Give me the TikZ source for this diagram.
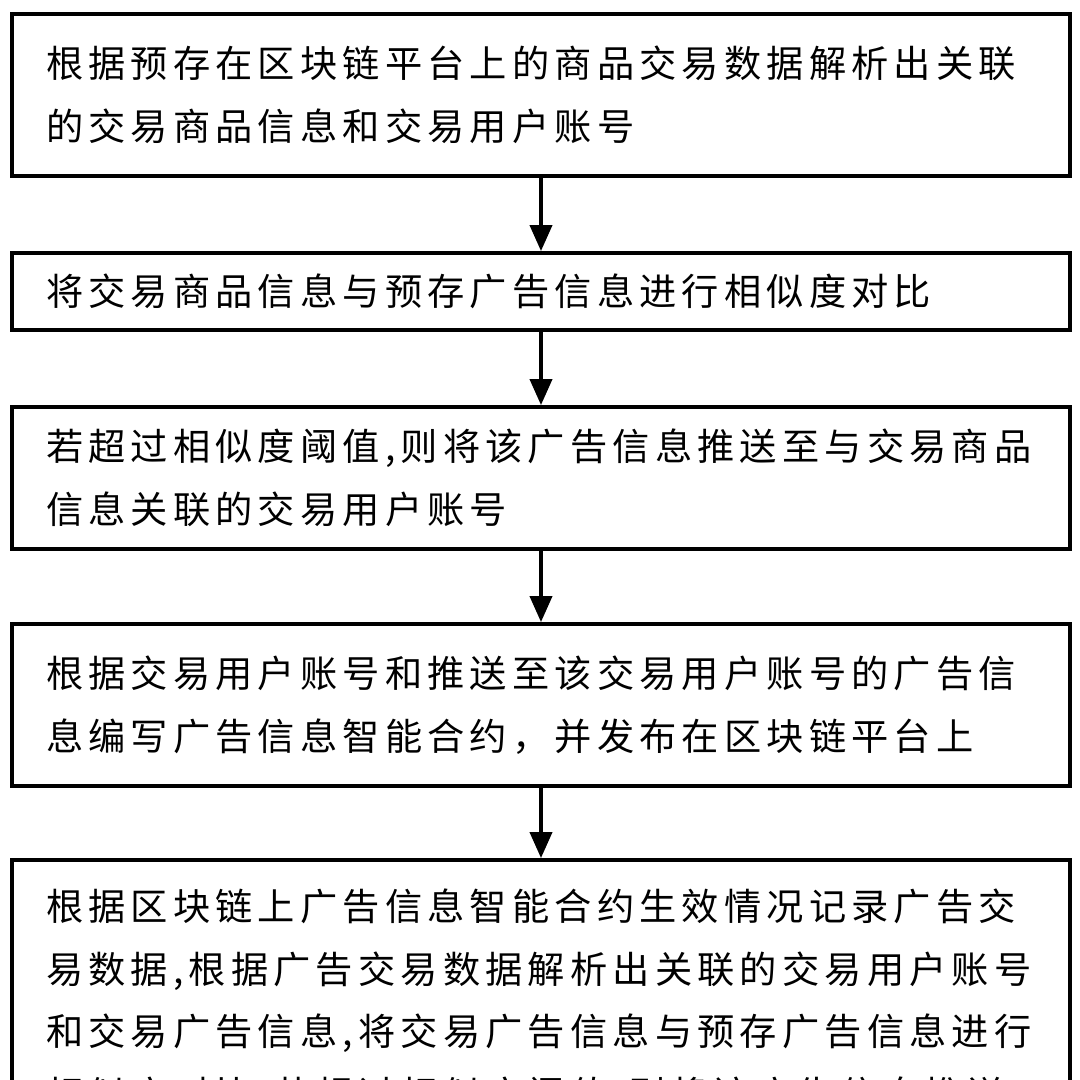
\documentclass[tikz,border=0pt]{standalone}
\usepackage{fontspec}
\newfontfamily\cjk[LetterSpace=13.8]{Noto Sans CJK SC}
\usetikzlibrary{arrows.meta}

\begin{document}
\begin{tikzpicture}[x=0.1mm, y=-0.1mm,
    stepbox/.style={draw, line width=1.1pt, minimum width=105.6mm, text width=99mm, inner xsep=3.4mm, align=left, font=\cjk\fontsize{10.6pt}{17.8pt}\selectfont},
    flowarrow/.style={line width=1.1pt, -{Triangle[length=2.6mm, width=2.2mm]}}]
      \useasboundingbox (0,0) rectangle (1080,1080);
      \clip (0,0) rectangle (1080,1080);
      \fill[white] (0,0) rectangle (1080,1080);

      \node[stepbox, minimum height=16.2mm] (parse) at (541,95) {根据预存在区块链平台上的商品交易数据解析出关联\\的交易商品信息和交易用户账号};
      \node[stepbox, minimum height=7.7mm] (compare) at (541,291.5) {将交易商品信息与预存广告信息进行相似度对比};
      \node[stepbox, minimum height=14.2mm] (push) at (541,478) {若超过相似度阈值,则将该广告信息推送至与交易商品\\信息关联的交易用户账号};
      \node[stepbox, minimum height=16.2mm] (contract) at (541,705) {根据交易用户账号和推送至该交易用户账号的广告信\\息编写广告信息智能合约，并发布在区块链平台上};
      \node[stepbox, minimum height=28.4mm] (record) at (541,1002) {根据区块链上广告信息智能合约生效情况记录广告交\\易数据,根据广告交易数据解析出关联的交易用户账号\\和交易广告信息,将交易广告信息与预存广告信息进行\\相似度对比,若超过相似度阈值,则将该广告信息推送};

      \draw[flowarrow] (parse) -- (compare);
      \draw[flowarrow] (compare) -- (push);
      \draw[flowarrow] (push) -- (contract);
      \draw[flowarrow] (contract) -- (record);
    \end{tikzpicture}
\end{document}
